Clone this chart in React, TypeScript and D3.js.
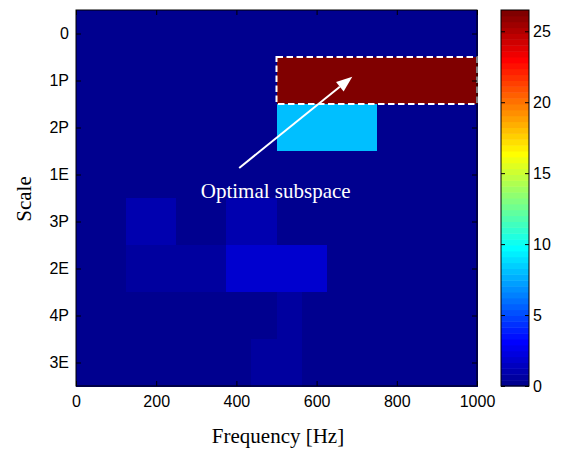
import { useEffect, useRef } from 'react';
import { select, scaleLinear, axisBottom, axisTop, axisLeft, axisRight, range } from 'd3';

// scales of the decomposition, top to bottom
const scaleLabels = ['0', '1P', '2P', '1E', '3P', '2E', '4P', '3E'];
// band width and start offset of each scale (Hz)
const bandWidths = [1000, 500, 250, 500, 125, 250, 62.5, 125];
const bandOffsets = [0, 0, 0, 250, 0, 125, 0, 62.5];

// energy of every band, per scale
const energy0 = [0.1];
const energy1P = [0.1, 26.5];
const energy2P = [0.1, 0.1, 8.0, 0.1];
const energy1E = [0.1, 0.1, 0.1];
const energy3P = [0.1, 0.9, 0.1, 0.9, 0.1, 0.1, 0.1, 0.1];
const energy2E = [0.1, 0.6, 2.0, 0.1, 0.1];
const energy4P = [0.1, 0.1, 0.1, 0.1, 0.1, 0.1, 0.1, 0.1, 0.7, 0.1, 0.1, 0.1, 0.1, 0.1, 0.1, 0.1];
const energy3E = [0.1, 0.1, 0.1, 0.1, 0.6, 0.1, 0.1, 0.1, 0.1];
const energies = [energy0, energy1P, energy2P, energy1E, energy3P, energy2E, energy4P, energy3E];

const freqTicks = [0, 200, 400, 600, 800, 1000];
const colorTicks = [0, 5, 10, 15, 20, 25];
const colorMax = 26.5;

// highlighted band and annotation (freq, scale position)
const optimalBand = { scale: 1, from: 500, to: 1000 };
const arrowFrom = [407, 3.36];
const arrowTo = [689, 1.42];
const noteText = 'Optimal subspace';
const notePos = [498, 4.0];

// matlab jet(64)
function u(k) {
  if (k < 1 || k > 47) return 0;
  if (k <= 16) return k / 16;
  if (k <= 31) return 1;
  return (48 - k) / 16;
}
function jet(j) {
  const c = (v) => Math.round(v * 255);
  return `rgb(${c(u(j - 24))},${c(u(j - 8))},${c(u(j + 8))})`;
}
function colorOf(v) {
  const j = Math.min(64, Math.floor((v / colorMax) * 64) + 1);
  return jet(Math.max(1, j));
}

function bandEdges(w, o) {
  const edges = [0];
  let e = o > 0 ? o : w;
  while (e < 1000) {
    edges.push(e);
    e += w;
  }
  edges.push(1000);
  return edges;
}

export default function App() {
  const svgRef = useRef(null);

  useEffect(() => {
    const svg = select(svgRef.current);
    svg.selectAll('*').remove();

    const sans = 'Liberation Sans, Arial, Helvetica, sans-serif';
    const serif = 'Liberation Serif, Times New Roman, serif';

    const x = scaleLinear().domain([0, 1000]).range([76, 477]);
    const y = scaleLinear().domain([0, 8]).range([10, 386]);

    // heatmap cells
    const cells = [];
    energies.forEach((vals, row) => {
      const edges = bandEdges(bandWidths[row], bandOffsets[row]);
      vals.forEach((v, i) => cells.push({ row, x0: edges[i], x1: edges[i + 1], v }));
    });
    svg
      .append('g')
      .selectAll('rect')
      .data(cells)
      .join('rect')
      .attr('x', (d) => x(d.x0))
      .attr('y', (d) => y(d.row))
      .attr('width', (d) => x(d.x1) - x(d.x0) + 0.5)
      .attr('height', y(1) - y(0) + 0.5)
      .attr('fill', (d) => colorOf(d.v))
      .attr('shape-rendering', 'crispEdges');

    // dashed box
    svg
      .append('rect')
      .attr('x', x(optimalBand.from))
      .attr('y', y(optimalBand.scale))
      .attr('width', x(optimalBand.to) - x(optimalBand.from))
      .attr('height', y(optimalBand.scale + 1) - y(optimalBand.scale))
      .attr('fill', 'none')
      .attr('stroke', 'white')
      .attr('stroke-width', 2)
      .attr('stroke-dasharray', '6.5,3.5');

    // arrow
    const ax0 = x(arrowFrom[0]), ay0 = y(arrowFrom[1]);
    const ax1 = x(arrowTo[0]), ay1 = y(arrowTo[1]);
    const ang = Math.atan2(ay1 - ay0, ax1 - ax0);
    const hl = 16, hw = 6;
    const bx = ax1 - hl * Math.cos(ang), by = ay1 - hl * Math.sin(ang);
    svg
      .append('line')
      .attr('x1', ax0)
      .attr('y1', ay0)
      .attr('x2', bx)
      .attr('y2', by)
      .attr('stroke', 'white')
      .attr('stroke-width', 2);
    svg
      .append('path')
      .attr(
        'd',
        `M${ax1},${ay1}L${bx + hw * Math.sin(ang)},${by - hw * Math.cos(ang)}L${bx - hw * Math.sin(ang)},${by + hw * Math.cos(ang)}Z`
      )
      .attr('fill', 'white');

    svg
      .append('text')
      .attr('x', x(notePos[0]))
      .attr('y', y(notePos[1]))
      .attr('text-anchor', 'middle')
      .attr('fill', 'white')
      .style('font-family', serif)
      .style('font-size', '21px')
      .text(noteText);

    // axes, ticks pointing inward
    const rowTicks = range(scaleLabels.length).map((i) => i + 0.5);
    const styleAxis = (g) => {
      g.select('.domain').remove();
      g.selectAll('line').attr('stroke', 'black');
      g.selectAll('text').attr('fill', 'black').style('font-family', sans).style('font-size', '16px');
    };
    svg
      .append('g')
      .attr('transform', 'translate(0,386)')
      .call(axisBottom(x).tickValues(freqTicks).tickSizeInner(-5).tickSizeOuter(0).tickPadding(10).tickFormat((d) => String(d)))
      .call(styleAxis);
    svg
      .append('g')
      .attr('transform', 'translate(0,10)')
      .call(axisTop(x).tickValues(freqTicks).tickSizeInner(-5).tickSizeOuter(0).tickFormat(() => ''))
      .call(styleAxis);
    svg
      .append('g')
      .attr('transform', 'translate(76,0)')
      .call(axisLeft(y).tickValues(rowTicks).tickSizeInner(-5).tickSizeOuter(0).tickPadding(7).tickFormat((d) => scaleLabels[Math.floor(d)]))
      .call(styleAxis);
    svg
      .append('g')
      .attr('transform', 'translate(477,0)')
      .call(axisRight(y).tickValues(rowTicks).tickSizeInner(-5).tickSizeOuter(0).tickFormat(() => ''))
      .call(styleAxis);

    svg
      .append('rect')
      .attr('x', 76)
      .attr('y', 10)
      .attr('width', 401)
      .attr('height', 376)
      .attr('fill', 'none')
      .attr('stroke', 'black')
      .attr('stroke-width', 1);

    svg
      .append('text')
      .attr('x', 278)
      .attr('y', 443)
      .attr('text-anchor', 'middle')
      .style('font-family', serif)
      .style('font-size', '21px')
      .text('Frequency [Hz]');
    svg
      .append('text')
      .attr('transform', 'translate(31,199) rotate(-90)')
      .attr('text-anchor', 'middle')
      .style('font-family', serif)
      .style('font-size', '21px')
      .text('Scale');

    // colorbar
    const c = scaleLinear().domain([0, colorMax]).range([386, 10]);
    const steps = range(64);
    svg
      .append('g')
      .selectAll('rect')
      .data(steps)
      .join('rect')
      .attr('x', 501)
      .attr('width', 28)
      .attr('y', (j) => c(((j + 1) / 64) * colorMax))
      .attr('height', (j) => c((j / 64) * colorMax) - c(((j + 1) / 64) * colorMax) + 0.5)
      .attr('fill', (j) => jet(j + 1));
    svg
      .append('g')
      .attr('transform', 'translate(529,0)')
      .call(axisRight(c).tickValues(colorTicks).tickSizeInner(-4).tickSizeOuter(0).tickPadding(4))
      .call(styleAxis);
    svg
      .append('g')
      .attr('transform', 'translate(501,0)')
      .call(axisLeft(c).tickValues(colorTicks).tickSizeInner(-4).tickSizeOuter(0).tickFormat(() => ''))
      .call(styleAxis);
    svg
      .append('rect')
      .attr('x', 501)
      .attr('y', 10)
      .attr('width', 28)
      .attr('height', 376)
      .attr('fill', 'none')
      .attr('stroke', 'black')
      .attr('stroke-width', 1);
  }, []);

  return (
    <svg
      ref={svgRef}
      width={563}
      height={449}
      style={{ position: 'absolute', left: 0, top: 0, background: 'white' }}
    />
  );
}
